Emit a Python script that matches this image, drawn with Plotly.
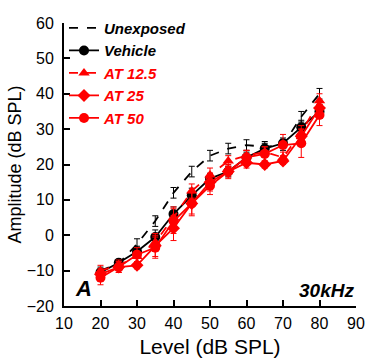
import plotly.graph_objects as go

levels = [20, 25, 30, 35, 40, 45, 50, 55, 60, 65, 70, 75, 80]

unexposed = [-10, -8, -2.5, 4, 12, 18, 22.5, 24.5, 25.5, 25, 25.5, 33.5, 40]
unexposed_err = [1, 1, 1.5, 1.5, 1.5, 1.5, 1.5, 1.5, 1.5, 1.5, 1.5, 1.5, 1.5]

vehicle = [-10.5, -7.8, -4.6, -0.5, 6, 11.3, 16, 18, 22, 24.5, 26, 30.5, 35]
vehicle_err = [1, 1, 1.5, 2, 2, 2, 1.5, 1.5, 1.5, 1.5, 1.5, 2, 2]

at125 = [-10, -8.5, -6, -2, 5, 12.5, 17, 21, 22.5, 23.5, 22, 29, 38]
at125_err = [1.5, 1.5, 1.5, 2.5, 3, 2, 2, 1.5, 1.5, 1.5, 1.5, 2, 2]

at25 = [-11, -9, -8.5, -3, 2, 9, 15, 18, 20.5, 20, 21, 28, 36]
at25_err = [1.5, 1.5, 1, 3, 3.5, 3, 2.5, 1.5, 1.5, 1, 1, 2, 2]

at50 = [-12, -9, -5.5, -3.5, 4, 9, 14, 18, 22, 23, 25.5, 26, 34]
at50_err = [2, 1.5, 2, 3, 3.5, 3.5, 2.5, 2, 2, 2, 3, 4, 3]

RED = "#ff0000"
series = [
    ("Unexposed", unexposed, unexposed_err, "black", "dash", None),
    ("Vehicle", vehicle, vehicle_err, "black", "solid", "circle"),
    ("AT 12.5", at125, at125_err, RED, "dash", "triangle-up"),
    ("AT 25", at25, at25_err, RED, "solid", "diamond"),
    ("AT 50", at50, at50_err, RED, "solid", "circle"),
]

fig = go.Figure()
for name, ys, err, col, dash, sym in series:
    label = f"<span style='color:{col}'>{name}</span>"
    fig.add_trace(go.Scatter(
        x=levels, y=ys, name=label,
        mode="lines+markers" if sym else "lines",
        line=dict(color=col, width=1.8, dash=dash),
        marker=dict(symbol=sym or "circle", size=10, color=col),
        error_y=dict(type="data", array=err, visible=True, color=col, thickness=1, width=3),
    ))

FONT = "Liberation Sans, Arial"
fig.update_layout(
    width=368, height=360,
    margin=dict(l=64, r=12, t=15, b=54),
    paper_bgcolor="white", plot_bgcolor="white",
    font=dict(family=FONT, size=16, color="black"),
    showlegend=True,
    legend=dict(
        x=0.0, y=1.04, xanchor="left", yanchor="top",
        bgcolor="rgba(0,0,0,0)", tracegroupgap=0,
        font=dict(family=FONT, size=15, color="black", weight="bold", style="italic"),
        itemwidth=30,
    ),
    xaxis=dict(
        range=[10, 90], tickvals=[10, 20, 30, 40, 50, 60, 70, 80, 90],
        showline=True, linecolor="black", linewidth=2, mirror=False,
        ticks="inside", ticklen=6, tickwidth=2, tickcolor="black",
        showgrid=False, zeroline=False, ticklabelstandoff=2, automargin=False,
        tickfont=dict(size=16),
        title=dict(text="Level (dB SPL)", font=dict(size=21), standoff=8),
    ),
    yaxis=dict(
        range=[-20, 60], tickvals=[-20, -10, 0, 10, 20, 30, 40, 50, 60],
        showline=True, linecolor="black", linewidth=2, mirror=False,
        ticks="inside", ticklen=6, tickwidth=2, tickcolor="black",
        showgrid=False, zeroline=False, ticklabelstandoff=5, automargin=False,
        tickfont=dict(size=16),
        title=dict(text="Amplitude (dB SPL)", font=dict(size=18), standoff=0),
    ),
    annotations=[
        dict(text="<b><i>A</i></b>", x=0.03, y=0.01, xref="paper", yref="paper",
             xanchor="left", yanchor="bottom", showarrow=False,
             font=dict(size=22, color="black")),
        dict(text="<b><i>30kHz</i></b>", x=1.0, y=0.01, xref="paper", yref="paper",
             xanchor="right", yanchor="bottom", showarrow=False,
             font=dict(size=19, color="black")),
    ],
)

fig.write_html("out.html")
